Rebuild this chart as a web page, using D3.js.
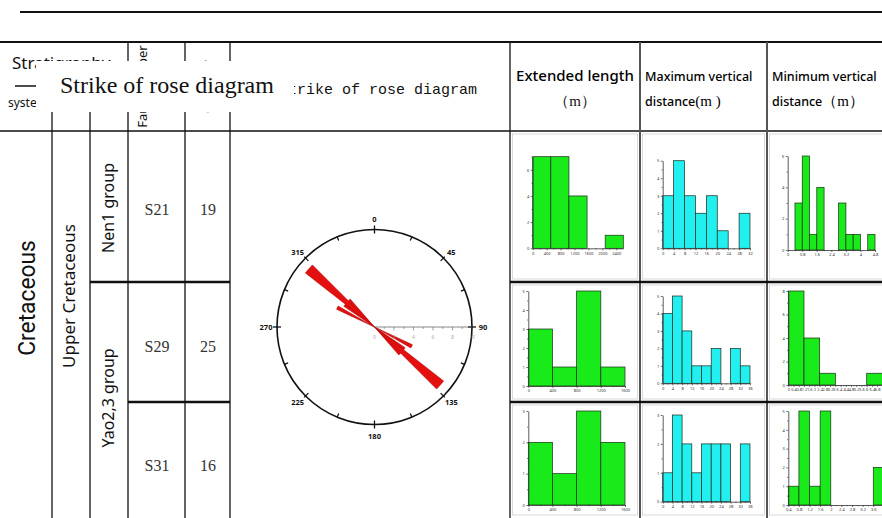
<!DOCTYPE html>
<html><head><meta charset="utf-8">
<script src="https://cdn.jsdelivr.net/npm/d3@7"></script>
<style>body{margin:0;background:#fff}svg{display:block}</style>
</head><body>
<script>
// ---------- data ----------
const faultSets = ["S21", "S29", "S31"];
const faultCounts = [19, 25, 16];
const groupNames = ["Nen1 group", "Yao2,3 group"];
const seriesName = "Upper Cretaceous";
const systemName = "Cretaceous";
const columnTitles = ["Extended length", "Maximum vertical", "Minimum vertical"];

// rose diagram (bidirectional strikes, azimuth in degrees, radial value)
const roseLabels = [0, 45, 90, 135, 180, 225, 270, 315];
const petalFrom = [115, 124, 128];
const petalTo = [120, 139, 135];
const petalValue = [4.3, 3.8, 9.0];
const radialTicks = [0, 2, 4, 6, 8, 10];

// extended length histograms (m)
const extLenEdges = [[0, 520, 1040, 1560, 2080, 2600], [0, 400, 800, 1200, 1600], [0, 400, 800, 1200, 1600]];
const extLenCounts = [[7, 7, 4, 0, 1], [3, 1, 5, 1], [2, 1, 3, 2]];
const extLenTicks = [[0, 400, 800, 1200, 1600, 2000, 2400], [0, 400, 800, 1200, 1600], [0, 400, 800, 1200, 1600]];
const extLenYMax = [7, 5, 3];
const extLenYStep = [2, 1, 1];

// maximum vertical distance histograms (m)
const maxVertEdges = [[0, 4, 8, 12, 16, 20, 24, 28, 32], [0, 4, 8, 12, 16, 20, 24, 28, 32, 36], [0, 4, 8, 12, 16, 20, 24, 28, 32, 36]];
const maxVertCounts = [[3, 5, 3, 2, 3, 1, 0, 2], [4, 5, 3, 1, 1, 2, 0, 2, 1], [1, 3, 2, 1, 2, 2, 2, 0, 2]];
const maxVertTicks = maxVertEdges;
const maxVertYMax = [5, 5, 3];
const maxVertYStep = [1, 1, 1];

// minimum vertical distance histograms (m)
const minVertEdges = [
  [0, 0.4, 0.8, 1.2, 1.6, 2.0, 2.4, 2.8, 3.2, 3.6, 4.0, 4.4, 4.8],
  [0, 1.2, 2.4, 3.6, 4.8, 6.0, 7.2],
  [0.4, 0.8, 1.2, 1.6, 2.0, 2.4, 2.8, 3.2, 3.6, 4.0]];
const minVertCounts = [[0, 3, 6, 1, 4, 0, 0, 3, 1, 1, 0, 1], [8, 4, 1, 0, 0, 1], [1, 5, 1, 5, 0, 0, 0, 0, 2]];
const minVertTicks = [
  [0, 0.8, 1.6, 2.4, 3.2, 4, 4.8],
  [0, 0.4, 0.8, 1.2, 1.6, 2, 2.4, 2.8, 3.2, 3.6, 4, 4.4, 4.8, 5.2, 5.6, 6, 6.4, 6.8],
  [0.4, 0.8, 1.2, 1.6, 2, 2.4, 2.8, 3.2, 3.6]];
const minVertYMax = [6, 8, 5];
const minVertYStep = [2, 2, 1];

// ---------- layout ----------
const W = 882, H = 518;
const svg = d3.select("body").append("svg").attr("width", W).attr("height", H);

const topY = 42, headY = 131, midHeadY = 86;
const rowY = [headY, 282, 402, H];
const colX = [52, 90, 128, 185, 230, 510, 640, 767];

const line = (x1, y1, x2, y2, w, c) => svg.append("line")
  .attr("x1", x1).attr("y1", y1).attr("x2", x2).attr("y2", y2)
  .attr("stroke", c || "#111").attr("stroke-width", w);

// title rule and table frame
line(20, 12, W, 12, 2.2);
line(0, topY, W, topY, 2);
line(0, headY, W, headY, 1.6);
line(15, midHeadY, 128, midHeadY, 1.6);
line(colX[0], midHeadY, colX[0], H, 1.3);
line(colX[1], midHeadY, colX[1], H, 1.3);
[2, 3, 4].forEach(i => line(colX[i], topY, colX[i], H, 1.3));
line(colX[5], topY, colX[5], H, 1.4, "#222");
line(colX[6], topY, colX[6], H, 2, "#555");
line(colX[7], topY, colX[7], H, 2, "#555");
// row separators
line(colX[1], rowY[1], colX[4], rowY[1], 2.6);
line(colX[5], rowY[1], W, rowY[1], 2.6);
line(colX[2], rowY[2], colX[4], rowY[2], 2.6);
line(colX[5], rowY[2], W, rowY[2], 2.6);

// ---------- header text ----------
const sans = "'Noto Sans', 'DejaVu Sans', sans-serif";
const serif = "'Liberation Serif', 'DejaVu Serif', serif";
svg.append("text").attr("x", 12).attr("y", 69).attr("font-family", sans)
  .attr("font-size", 17).attr("fill", "#111").text("Stratigraphy");
svg.append("text").attr("x", 8).attr("y", 107).attr("font-family", sans)
  .attr("font-size", 12).attr("fill", "#111").text("system");
[["Fault number", 142], ["Quantity", 207]].forEach(([t, cx]) => {
  svg.append("text").attr("transform", `translate(${cx},${(topY + headY) / 2}) rotate(-90)`)
    .attr("text-anchor", "middle").attr("dominant-baseline", "central")
    .attr("font-family", sans).attr("font-size", 13).attr("fill", "#111").text(t);
});
svg.append("text").attr("x", 279).attr("y", 94)
  .attr("font-family", "'Liberation Mono', 'DejaVu Sans Mono', monospace")
  .attr("font-size", 15).attr("fill", "#111").text("Strike of rose diagram");

// caption box laid over the header
svg.append("rect").attr("x", 36).attr("y", 61).attr("width", 258).attr("height", 51).attr("fill", "#fff");
svg.append("text").attr("x", 60).attr("y", 93).attr("font-family", serif)
  .attr("font-size", 24).attr("fill", "#111").text("Strike of rose diagram");

const headerCols = [[colX[5], colX[6]], [colX[6], colX[7]], [colX[7], W]];
svg.append("text").attr("x", (colX[5] + colX[6]) / 2).attr("y", 81).attr("text-anchor", "middle")
  .attr("font-family", sans).attr("font-size", 15).attr("font-weight", 500).attr("fill", "#000").text(columnTitles[0]);
svg.append("text").attr("x", (colX[5] + colX[6]) / 2).attr("y", 106).attr("text-anchor", "middle")
  .attr("font-family", serif).attr("font-size", 15).attr("fill", "#111").text("（m）");
[1, 2].forEach(i => {
  const x = headerCols[i][0] + 5;
  svg.append("text").attr("x", x).attr("y", 81).attr("font-family", sans)
    .attr("font-size", 12.5).attr("font-weight", 500).attr("fill", "#000").text(columnTitles[i]);
  const t = svg.append("text").attr("x", x).attr("y", 106).attr("font-family", sans)
    .attr("font-size", 12.5).attr("font-weight", 500).attr("fill", "#000");
  t.append("tspan").text("distance");
  t.append("tspan").attr("font-family", serif).attr("font-weight", 400).attr("font-size", 15).text(i === 1 ? "(m )" : "（m）");
});

// ---------- stratigraphy body ----------
const vtext = (t, cx, cy, size, family) => svg.append("text")
  .attr("transform", `translate(${cx},${cy}) rotate(-90)`)
  .attr("text-anchor", "middle").attr("dominant-baseline", "central")
  .attr("font-family", family).attr("font-size", size).attr("fill", "#111").text(t);
vtext(systemName, 27, 298, 24, "Roboto, sans-serif").attr("transform", "translate(27,298) rotate(-90) scale(0.95,1)");
vtext(seriesName, 68, 296, 17, sans);
vtext(groupNames[0], 108, 208, 16, sans);
vtext(groupNames[1], 108, 398, 16, sans);

const rowCenters = [209, 346, 465];
faultSets.forEach((s, i) => {
  svg.append("text").attr("x", 157).attr("y", rowCenters[i]).attr("text-anchor", "middle")
    .attr("dominant-baseline", "central").attr("font-family", serif).attr("font-size", 16)
    .attr("fill", "#333").text(s);
  svg.append("text").attr("x", 208).attr("y", rowCenters[i]).attr("text-anchor", "middle")
    .attr("dominant-baseline", "central").attr("font-family", serif).attr("font-size", 16)
    .attr("fill", "#333").text(faultCounts[i]);
});

// ---------- rose diagram ----------
const cx = 374.5, cy = 327, R = 97.5;
const rose = svg.append("g").attr("transform", `translate(${cx},${cy})`);
const rScale = d3.scaleLinear().domain([0, 10]).range([0, R]);
const rad = d => d * Math.PI / 180;
const petals = [];
petalFrom.forEach((f, i) => {
  [0, 180].forEach(off => petals.push({ a0: f + off, a1: petalTo[i] + off, v: petalValue[i] }));
});
const arc = d3.arc().innerRadius(0).outerRadius(d => rScale(d.v))
  .startAngle(d => rad(d.a0)).endAngle(d => rad(d.a1));
rose.selectAll("path.petal").data(petals).join("path").attr("class", "petal")
  .attr("d", arc).attr("fill", "#e41010").attr("stroke", "#a00").attr("stroke-width", 0.5);

rose.append("circle").attr("r", R).attr("fill", "none").attr("stroke", "#111").attr("stroke-width", 1.6);
d3.range(0, 360, 22.5).forEach(a => {
  const major = a % 90 === 0;
  const r0 = R - 4, r1 = major ? R + 4 : R + (a % 45 === 0 ? 2 : 0);
  const s = Math.sin(rad(a)), c = -Math.cos(rad(a));
  rose.append("line").attr("x1", r0 * s).attr("y1", r0 * c).attr("x2", r1 * s).attr("y2", r1 * c)
    .attr("stroke", "#111").attr("stroke-width", 1.3);
});
roseLabels.forEach(a => {
  const rr = a % 90 === 0 ? R + 11 : R + 8;
  let x = rr * Math.sin(rad(a)), y = -rr * Math.cos(rad(a));
  if (a % 90 !== 0) { x *= 1.03; }
  rose.append("text").attr("x", x).attr("y", y).attr("text-anchor", "middle")
    .attr("dominant-baseline", "central").attr("font-family", sans).attr("font-weight", "bold")
    .attr("font-size", 7.5).attr("fill", "#111").text(a);
});
// radial scale along the east axis
rose.append("line").attr("x1", 0).attr("y1", 0).attr("x2", R).attr("y2", 0).attr("stroke", "#555").attr("stroke-width", 0.7);
d3.range(1, 10).forEach(v => {
  rose.append("line").attr("x1", rScale(v)).attr("x2", rScale(v)).attr("y1", 0).attr("y2", v % 2 ? 2 : 3.5)
    .attr("stroke", "#666").attr("stroke-width", 0.6);
});
radialTicks.forEach(v => {
  rose.append("text").attr("x", rScale(v)).attr("y", 12).attr("text-anchor", "middle")
    .attr("font-family", sans).attr("font-size", 5).attr("fill", "#aaa").text(v);
});

// ---------- histograms ----------
const frames = [
  [{ x0: 532.7, x1: 623.3, y0: 248.3, y1: 156.7 }, { x0: 662.7, x1: 750, y0: 248.3, y1: 160.7 }, { x0: 787.7, x1: 875, y0: 250, y1: 156 }],
  [{ x0: 528.3, x1: 625, y0: 386, y1: 291 }, { x0: 662.7, x1: 750, y0: 383.3, y1: 296 }, { x0: 788.3, x1: 882.4, y0: 385, y1: 291 }],
  [{ x0: 528.3, x1: 625, y0: 505, y1: 411 }, { x0: 662.7, x1: 750, y0: 501.7, y1: 415 }, { x0: 788.3, x1: 883.9, y0: 505, y1: 411 }]
];

// thin inset frames around each histogram panel
for (let r = 0; r < 3; r++) {
  for (let c = 0; c < 3; c++) {
    const xa = colX[5 + c] + 2.5, xb = (c < 2 ? colX[6 + c] : W + 5) - 2.5;
    svg.append("rect").attr("x", xa).attr("y", rowY[r] + 3).attr("width", xb - xa)
      .attr("height", rowY[r + 1] - rowY[r] - 6).attr("fill", "none").attr("stroke", "#d0d0d0").attr("stroke-width", 0.8);
  }
}

function histogram(edges, counts, ticks, yMax, yStep, f, fill) {
  const g = svg.append("g");
  const x = d3.scaleLinear().domain([edges[0], edges[edges.length - 1]]).range([f.x0, f.x1]);
  const y = d3.scaleLinear().domain([0, yMax]).range([f.y0, f.y1]);
  const bins = counts.map((n, i) => ({ a: edges[i], b: edges[i + 1], n })).filter(d => d.n > 0);
  g.selectAll("rect").data(bins).join("rect")
    .attr("x", d => x(d.a)).attr("width", d => x(d.b) - x(d.a))
    .attr("y", d => y(d.n)).attr("height", d => y(0) - y(d.n))
    .attr("fill", fill).attr("stroke", "#1a2a1a").attr("stroke-width", 0.7);

  const fmt = d3.format("~g");
  g.append("g").attr("transform", `translate(0,${f.y0})`)
    .call(d3.axisBottom(x).tickValues(ticks).tickSize(2).tickSizeOuter(0).tickPadding(1.5).tickFormat(fmt));
  const minorX = d3.range(ticks.length - 1).map(i => (ticks[i] + ticks[i + 1]) / 2);
  g.append("g").attr("transform", `translate(0,${f.y0})`)
    .call(d3.axisBottom(x).tickValues(minorX).tickSize(1.2).tickFormat(""))
    .select(".domain").remove();
  const yTicks = d3.range(0, yMax + 1e-9, yStep);
  g.append("g").attr("transform", `translate(${f.x0},0)`)
    .call(d3.axisLeft(y).tickValues(yTicks).tickSize(2).tickSizeOuter(0).tickPadding(1.5).tickFormat(fmt));
  const minorY = d3.range(yStep / 2, yMax + 1e-9, yStep / 2).filter(v => Math.abs(v / yStep - Math.round(v / yStep)) > 1e-6);
  g.append("g").attr("transform", `translate(${f.x0},0)`)
    .call(d3.axisLeft(y).tickValues(minorY).tickSize(1.2).tickFormat(""))
    .select(".domain").remove();
  g.selectAll(".domain").attr("stroke", "#333").attr("stroke-width", 0.8);
  g.selectAll(".tick line").attr("stroke", "#333").attr("stroke-width", 0.7);
  g.selectAll(".tick text").attr("font-size", 4).attr("font-family", sans).attr("fill", "#333");
}

const green = "#19ea19", cyan = "#22efef";
for (let r = 0; r < 3; r++) {
  histogram(extLenEdges[r], extLenCounts[r], extLenTicks[r], extLenYMax[r], extLenYStep[r], frames[r][0], green);
  histogram(maxVertEdges[r], maxVertCounts[r], maxVertTicks[r], maxVertYMax[r], maxVertYStep[r], frames[r][1], cyan);
  histogram(minVertEdges[r], minVertCounts[r], minVertTicks[r], minVertYMax[r], minVertYStep[r], frames[r][2], green);
}
</script>
</body></html>
